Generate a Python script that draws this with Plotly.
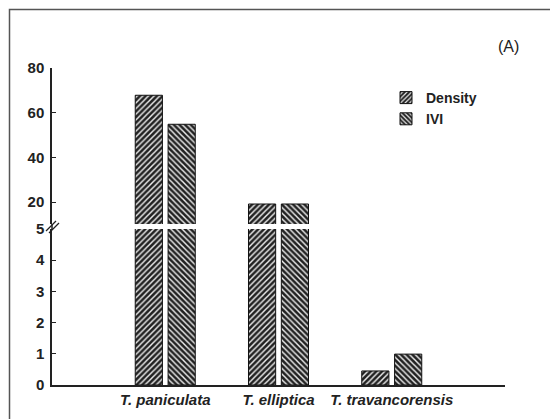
import plotly.graph_objects as go

categories = ["<i>T. paniculata</i>", "<i>T. elliptica</i>", "<i>T. travancorensis</i>"]
density = [67.8, 19.1, 0.45]
ivi = [54.8, 19.1, 0.99]
lower_ticks = [0, 1, 2, 3, 4, 5]
upper_ticks = [20, 40, 60, 80]

FONT = "Arial, Liberation Sans, sans-serif"
x_idx = [0, 1, 2]

def pattern(shape):
    return dict(shape=shape, fgcolor="#eeeeee", bgcolor="#222222",
                size=4, solidity=0.36, fillmode="replace")

fig = go.Figure()
for yax, show in (("y", False), ("y2", True)):
    fig.add_trace(go.Bar(x=x_idx, y=density, name="Density", yaxis=yax,
                         width=0.24, offset=-0.265, showlegend=show,
                         marker=dict(color="#222222", pattern=pattern("/"),
                                     line=dict(color="#111", width=1))))
    fig.add_trace(go.Bar(x=x_idx, y=ivi, name="IVI", yaxis=yax,
                         width=0.24, offset=0.025, showlegend=show,
                         marker=dict(color="#222222", pattern=pattern("\\"),
                                     line=dict(color="#111", width=1))))

OFF = 8  # page body margin offset
AX_L, AX_R, AX_T, AX_B = 52, 505, 68, 385
W_PLOT = AX_R - AX_L
H_PLOT = AX_B - AX_T
L = AX_L - OFF
T = AX_T - OFF
R = 558 - L - W_PLOT
B = 419 - T - H_PLOT

low_top = (AX_B - 229) / H_PLOT
up_bot = (AX_B - 224) / H_PLOT

def px_x(p):
    return (p - AX_L) / W_PLOT

def px_y(p):
    return (AX_B - p) / H_PLOT

tickfont = dict(family=FONT, size=15, color="#222", weight="bold")

fig.update_layout(
    width=558, height=419,
    margin=dict(l=L, r=R, t=T, b=B),
    paper_bgcolor="white", plot_bgcolor="white",
    font=dict(family=FONT, size=15, color="#111"),
    barmode="overlay",
    xaxis=dict(range=[-1, 3], tickmode="array", tickvals=x_idx, ticktext=categories,
               showline=True, linecolor="#222", linewidth=1.5, ticks="",
               showgrid=False, zeroline=False, tickfont=tickfont),
    yaxis=dict(domain=[0, low_top], range=[0, 5], tickmode="array", tickvals=lower_ticks,
               showline=True, linecolor="#222", linewidth=1.5, ticks="inside",
               ticklen=4, tickcolor="#222", showgrid=False, zeroline=False,
               ticklabelstandoff=3, tickfont=tickfont),
    yaxis2=dict(domain=[up_bot, 1], range=[10.15, 80], tickmode="array", tickvals=upper_ticks,
                showline=True, linecolor="#222", linewidth=1.5, ticks="inside",
                ticklen=4, tickcolor="#222", showgrid=False, zeroline=False,
                anchor="x", ticklabelstandoff=3, tickfont=tickfont),
    legend=dict(x=px_x(386), y=px_y(82), xanchor="left", yanchor="top",
                bgcolor="rgba(0,0,0,0)", tracegroupgap=0, itemwidth=30,
                font=dict(family=FONT, size=14, color="#222", weight="bold")),
    showlegend=True,
)

shapes = [
    dict(type="rect", xref="paper", yref="paper", x0=px_x(9.5), x1=px_x(600),
         y0=px_y(460), y1=px_y(9.5), line=dict(color="#555", width=1.5)),
    dict(type="line", xref="paper", yref="paper", x0=0, x1=0,
         y0=low_top, y1=up_bot, line=dict(color="#222", width=1.5)),
    dict(type="line", xref="paper", yref="paper", x0=px_x(46), x1=px_x(56),
         y0=px_y(231), y1=px_y(221), line=dict(color="#222", width=1.3)),
    dict(type="line", xref="paper", yref="paper", x0=px_x(49), x1=px_x(59),
         y0=px_y(233), y1=px_y(223), line=dict(color="#222", width=1.3)),
]
fig.update_layout(shapes=shapes)

fig.add_annotation(text="(A)", xref="paper", yref="paper", x=px_x(508), y=px_y(47),
                   xanchor="center", yanchor="middle", showarrow=False,
                   font=dict(family=FONT, size=16, color="#222"))

fig.write_html("out.html")
